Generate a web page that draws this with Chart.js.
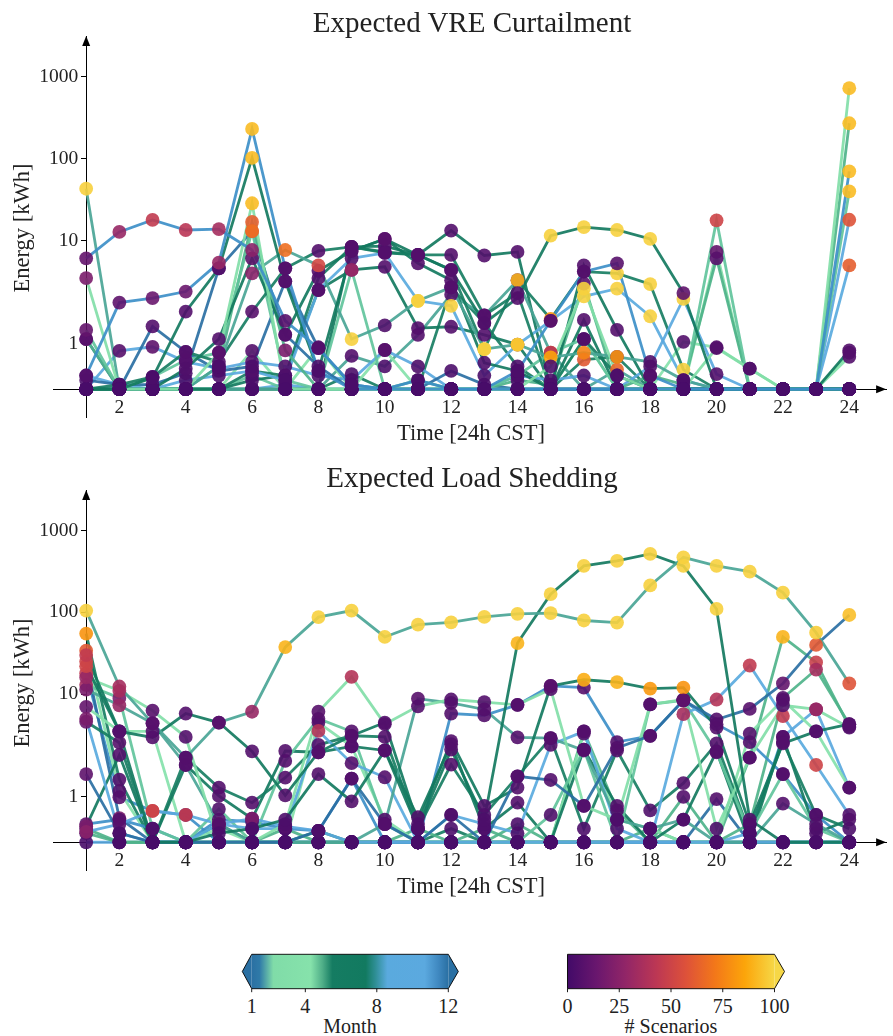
<!DOCTYPE html>
<html>
<head>
<meta charset="utf-8">
<script src="https://cdn.jsdelivr.net/npm/chart.js@4.4.1/dist/chart.umd.min.js"></script>
<style>
  html, body { margin: 0; padding: 0; background: #fff; }
  #page { position: relative; width: 893px; height: 1036px; overflow: hidden; font-family: 'Liberation Serif', serif; color: #222; }
  canvas { position: absolute; left: 0; }
  .txt { position: absolute; transform: translate(-50%, -50%); white-space: nowrap; }
  .title { font-size: 29px; }
  .axlabel { font-size: 22.5px; }
  .rot { transform: translate(-50%, -50%) rotate(-90deg); }
  svg { position: absolute; left: 0; top: 900px; }
</style>
</head>
<body>
<div id="page">
  <canvas id="chartVre" width="893" height="445" style="top:0"></canvas>
  <canvas id="chartShed" width="893" height="455" style="top:445px"></canvas>

  <div class="txt title" style="left:472px; top:22px">Expected VRE Curtailment</div>
  <div class="txt axlabel" style="left:471px; top:433px">Time [24h CST]</div>
  <div class="txt axlabel rot" style="left:22px; top:228px">Energy [kWh]</div>

  <div class="txt title" style="left:472px; top:477px">Expected Load Shedding</div>
  <div class="txt axlabel" style="left:471px; top:886px">Time [24h CST]</div>
  <div class="txt axlabel rot" style="left:22px; top:683px">Energy [kWh]</div>

  <svg id="bars" width="893" height="136"></svg>
</div>

<script>
// ------------------------------------------------------------
// data
// ------------------------------------------------------------
const hours = [1, 2, 3, 4, 5, 6, 7, 8, 9, 10, 11, 12, 13, 14, 15, 16, 17, 18, 19, 20, 21, 22, 23, 24];
const xTickValues = [2, 4, 6, 8, 10, 12, 14, 16, 18, 20, 22, 24];
const yTickValues = [1, 10, 100, 1000];
const monthTicks = [1, 4, 8, 12];
const scenarioTicks = [0, 25, 50, 75, 100];

// line colour per month (1..12)
const monthColors = ['#2a6fa3', '#62c49c', '#82dea8', '#86e2ab', '#4fb38a', '#187e63',
                     '#137a60', '#4aa596', '#5aaade', '#5aa8de', '#3d8fc8', '#2a6fa3'];
// month colorbar gradient [fraction, colour]
const monthStops = [[0, '#2a70a3'], [0.04, '#2f7aa8'], [0.11, '#80dca8'], [0.30, '#86e2ab'],
                    [0.36, '#4fae88'], [0.41, '#157c62'], [0.58, '#127a60'], [0.63, '#2f8f96'],
                    [0.69, '#5aaade'], [0.88, '#5ba9df'], [0.95, '#3f88c0'], [1, '#2a70a3']];
// # scenarios colormap, 0 -> 100
const scenarioStops = ['#420a68', '#6a176e', '#932667', '#bc3754', '#dd513a', '#f37819', '#fca50a', '#f6d746'];

// Expected VRE curtailment
const vreMonths = [11, 11, 7, 3, 8, 6, 7, 2, 5, 1, 12, 10, 9, 6, 7, 4, 8, 6, 3, 2, 9, 7];
const vreValues = [
  [6.1, 12.8, 17.9, 13.5, 13.8, 7.7, 1.5, 0.9, 0.1, 0, 0, 0, 0, 0, 0, 0, 0, 0, 0, 0, 0, 0, 0, 0],
  [0.3, 1.9, 2.0, 2.4, 5.4, 230, 4.6, 0.4, 0, 0, 0.2, 0, 0, 0.4, 1.5, 4.2, 5.3, 0.3, 0, 0, 0, 0, 0, 70],
  [0, 0, 0.25, 1.7, 4.6, 102, 3.2, 0.4, 7.5, 10.5, 6.7, 4.4, 1.45, 2.0, 11.5, 14.6, 13.5, 10.5, 2.3, 0, 0, 0, 0, 0.85],
  [3.5, 0, 0, 0, 0.8, 28.6, 0, 0, 0, 0, 0, 0, 0, 0, 0.5, 2.6, 0.3, 0, 0, 0.9, 0.45, 0, 0, 722],
  [43, 0, 0, 0, 0.5, 4.0, 7.7, 5.0, 1.1, 1.4, 1.94, 2.7, 0.88, 0.98, 0.7, 0.8, 0.71, 0.6, 0.2, 0, 0, 0, 0, 0],
  [0, 0.1, 0.27, 0.82, 0.6, 1.7, 4.6, 7.5, 8.4, 7.1, 6.7, 6.7, 1.62, 2.3, 0, 1.1, 0.3, 0, 0, 0, 0, 0, 0, 0],
  [0, 0, 0, 0.45, 1.1, 6.1, 1.19, 4.3, 7.5, 10.5, 5.3, 3.3, 0.58, 0.4, 0, 5.0, 1.3, 0, 0, 0, 0, 0, 0, 0],
  [1.3, 0, 0.27, 0.64, 0.8, 13.1, 0.2, 0, 4.4, 0, 0, 0, 0, 0.3, 0.8, 1.1, 0, 0, 0, 17.7, 0, 0, 0, 40],
  [1.1, 0, 0, 0, 0.5, 16.9, 0.85, 0, 0, 0, 0.2, 0, 0, 0.2, 0.1, 3.0, 0, 0.3, 0.1, 6.1, 0, 0, 0, 270],
  [1.1, 0, 1.38, 0.82, 0.4, 0.5, 3.2, 0.9, 0.1, 0, 0, 0.4, 0.1, 0, 0, 0, 0, 0, 0, 0, 0, 0, 0, 0],
  [0.2, 0.1, 0.1, 0.35, 4.6, 13.1, 1.2, 0.5, 0, 0, 0, 0, 0, 0, 0, 0, 0, 0, 0, 0, 0, 0, 0, 0],
  [0, 0.84, 0.93, 0.6, 0.45, 0.6, 0.5, 0.3, 0.2, 0.86, 0.5, 0, 0, 0.3, 0.2, 0.3, 0, 0.5, 1.98, 0.33, 0, 0, 0, 18],
  [0.3, 0.1, 0, 0.2, 0.3, 0.4, 0.2, 2.5, 6.1, 7.1, 1.94, 1.83, 0.3, 0.98, 1.5, 2.1, 2.6, 1.6, 0.2, 0, 0, 0, 0, 5.0],
  [0, 0, 0, 0, 0, 0.4, 0.3, 3.5, 8.4, 7.3, 6.7, 4.4, 0.88, 3.3, 1.54, 4.2, 4.0, 2.96, 0.43, 0, 0, 0, 0, 0],
  [0, 0, 0, 0, 0, 0.2, 0.3, 2.5, 4.4, 4.8, 1.34, 1.37, 1.19, 0.98, 0, 1.52, 0, 0, 0, 0, 0, 0, 0, 0],
  [0, 0, 0, 0, 0, 0.84, 0, 0.92, 0, 0.86, 0, 0, 0, 0, 0, 1.1, 0, 0, 1.04, 0.92, 0.45, 0, 0, 0.71],
  [0, 0, 0, 0, 0, 0, 0, 0, 0.73, 0.5, 1.19, 2.2, 1.62, 3.3, 0.8, 0, 0.43, 0, 0, 0, 0, 0, 0, 0],
  [0, 0, 0, 0, 0, 0, 0, 0, 0.33, 0, 0, 2.7, 1.45, 0.5, 0, 0.65, 0.71, 0, 0, 0, 0, 0, 0, 0],
  [0, 0, 0, 0, 0, 0, 0, 0, 0, 0, 0, 0, 0, 0, 0, 0, 0, 0, 0, 7.3, 0, 0, 0, 0.8],
  [0, 0, 0, 0, 0, 0.3, 0, 0, 0, 0, 0, 0, 0, 0, 0, 0, 0, 0, 0, 0, 0, 0, 0, 0],
  [0, 0, 0, 0, 0, 0, 0.1, 0, 0, 0, 0, 0, 0, 0, 0, 0, 0, 0, 0, 0, 0, 0, 0, 0],
  [0, 0, 0, 0, 0, 0, 0, 0, 8.4, 8.6, 6.7, 13.3, 6.6, 7.3, 0, 0, 0, 0, 0, 0, 0, 0, 0, 0]
];
const vreCounts = [
  [12, 30, 45, 42, 35, 25, 8, 6, 3, 2, 2, 2, 2, 2, 2, 2, 2, 2, 2, 2, 2, 2, 2, 2],
  [6, 10, 14, 15, 30, 92, 6, 4, 2, 2, 3, 2, 2, 4, 8, 6, 8, 4, 2, 2, 2, 2, 2, 92],
  [2, 2, 3, 6, 5, 92, 6, 4, 6, 8, 6, 6, 5, 6, 98, 98, 98, 98, 10, 2, 2, 2, 2, 6],
  [20, 2, 2, 2, 8, 92, 2, 2, 2, 2, 2, 2, 2, 2, 4, 98, 4, 2, 2, 6, 5, 2, 2, 92],
  [98, 2, 2, 2, 4, 25, 68, 52, 98, 5, 98, 6, 98, 95, 85, 75, 80, 5, 3, 2, 2, 2, 2, 2],
  [2, 3, 4, 6, 6, 8, 6, 6, 6, 6, 6, 6, 6, 6, 2, 5, 3, 2, 2, 2, 2, 2, 2, 2],
  [2, 2, 2, 5, 6, 10, 6, 6, 6, 8, 6, 6, 4, 4, 2, 6, 6, 2, 2, 2, 2, 2, 2, 2],
  [12, 2, 4, 6, 6, 68, 3, 2, 30, 2, 2, 2, 2, 4, 40, 8, 2, 2, 2, 50, 2, 2, 2, 92],
  [8, 2, 2, 2, 6, 62, 20, 2, 2, 2, 3, 2, 2, 3, 3, 8, 2, 20, 3, 8, 2, 2, 2, 92],
  [10, 2, 6, 6, 4, 4, 6, 6, 3, 2, 2, 4, 3, 2, 2, 2, 2, 2, 2, 2, 2, 2, 2, 2],
  [4, 3, 3, 4, 6, 52, 6, 4, 2, 2, 2, 2, 2, 2, 2, 2, 2, 2, 2, 2, 2, 2, 2, 2],
  [2, 8, 10, 5, 5, 6, 5, 4, 3, 8, 5, 2, 2, 4, 3, 4, 2, 5, 98, 6, 2, 2, 2, 58],
  [5, 3, 2, 3, 4, 5, 3, 6, 6, 6, 98, 98, 3, 95, 10, 98, 98, 98, 3, 2, 2, 2, 2, 62],
  [2, 2, 2, 2, 2, 5, 4, 6, 6, 6, 6, 6, 98, 90, 80, 8, 98, 98, 98, 2, 2, 2, 2, 2],
  [2, 2, 2, 2, 2, 3, 4, 6, 20, 6, 6, 6, 6, 6, 2, 6, 2, 2, 2, 2, 2, 2, 2, 2],
  [2, 2, 2, 2, 2, 6, 2, 6, 2, 6, 2, 2, 2, 2, 2, 6, 2, 2, 6, 6, 5, 2, 2, 6],
  [2, 2, 2, 2, 2, 2, 2, 2, 6, 4, 6, 6, 6, 6, 75, 2, 65, 2, 2, 2, 2, 2, 2, 2],
  [2, 2, 2, 2, 2, 2, 2, 2, 4, 2, 2, 6, 6, 4, 2, 60, 6, 2, 2, 2, 2, 2, 2, 2],
  [2, 2, 2, 2, 2, 2, 2, 2, 2, 2, 2, 2, 2, 2, 2, 2, 2, 2, 2, 12, 2, 2, 2, 8],
  [2, 2, 2, 2, 2, 4, 2, 2, 2, 2, 2, 2, 2, 2, 2, 2, 2, 2, 2, 2, 2, 2, 2, 2],
  [2, 2, 2, 2, 2, 2, 3, 2, 2, 2, 2, 2, 2, 2, 2, 2, 2, 2, 2, 2, 2, 2, 2, 2],
  [2, 2, 2, 2, 2, 2, 2, 2, 6, 6, 6, 6, 6, 6, 2, 2, 2, 2, 2, 2, 2, 2, 2, 2]
];

// Expected load shedding
const shedMonths = [8, 7, 1, 7, 3, 8, 10, 9, 2, 6, 7, 4, 11, 5, 5, 10, 6, 4, 1, 11];
const shedValues = [
  [105, 12.4, 4.4, 1.86, 4.5, 6.1, 37.6, 87.4, 105, 50, 70.6, 75.4, 88, 96, 98, 79.5, 75, 213, 470, 370, 315, 174, 56.5, 13.5],
  [30, 3.5, 0, 0, 0.2, 0.3, 0.5, 1.5, 0.9, 2.05, 0.3, 2.1, 0.5, 42.1, 167, 370, 425, 518, 370, 110, 0.5, 0, 0, 0],
  [1.5, 0.2, 0, 0, 0, 0, 0, 0.25, 1.4, 0.4, 0, 0.6, 0, 1.45, 1.37, 0.8, 2.2, 3.1, 8.4, 4.9, 6.6, 13.5, 40, 92.8],
  [22, 3.5, 2.96, 5.8, 4.5, 2.0, 1.03, 1.98, 3.1, 4.5, 0.4, 2.67, 0.8, 1.2, 12.6, 15, 14, 11.7, 12, 3.9, 0.4, 2.5, 3.5, 4.3],
  [16, 11, 6.3, 3.0, 0, 0, 0.4, 6.1, 16.3, 4.3, 7.1, 8.6, 8.0, 7.4, 11.5, 0.8, 0.5, 7.5, 8.6, 0.3, 1.86, 7.3, 6.5, 3.9],
  [11.4, 7.3, 4.4, 1.7, 0.4, 0, 0, 0, 0, 0.4, 8.8, 7.8, 6.5, 2.96, 2.9, 2.05, 0.5, 0.3, 0.5, 0, 0, 0.85, 0.4, 0],
  [0.23, 0.4, 0.69, 0.6, 0.4, 0.52, 0.35, 0.25, 0, 0, 0, 0, 0, 0, 0, 0, 0, 0, 0, 0, 0, 0, 0, 0],
  [5.0, 0.2, 0, 0, 0.4, 0.3, 0.3, 3.55, 1.74, 1.43, 0, 0.6, 0.4, 0.2, 2.4, 3.5, 0.3, 0, 5.7, 8.6, 22.4, 5.4, 1.7, 0.6],
  [13, 9.0, 0.3, 0, 0.73, 0, 1.79, 5.0, 3.5, 0.4, 0, 0, 0, 0, 0.6, 2.1, 0, 7.5, 8.4, 1.98, 0.2, 1.5, 0.3, 0],
  [4.6, 2.55, 0, 1.86, 1.2, 0.87, 1.42, 2.4, 3.1, 3.0, 0.3, 1.71, 0.6, 1.45, 2.9, 0.3, 2.05, 0.7, 1.3, 2.5, 0.2, 2.6, 0.6, 0.3],
  [0.35, 1.92, 0, 1.7, 1.02, 0.52, 2.02, 1.98, 2.3, 2.05, 0.55, 2.45, 0.3, 0.87, 0, 2.1, 0.8, 0, 0.5, 2.0, 0, 3.0, 0.2, 0.5],
  [7, 3.5, 3.5, 0, 0.3, 0, 0, 4.5, 2.3, 0.5, 0, 0, 0, 0, 0, 3.3, 0.5, 0.3, 0, 0, 3.3, 8.5, 3.5, 1.2],
  [0.4, 0.5, 0.3, 0, 0.5, 0.45, 0.3, 0.25, 1.4, 0, 0, 5.8, 5.5, 7.4, 12.6, 12.0, 2.6, 3.1, 8.4, 4.3, 2.6, 1.5, 0.6, 0],
  [0.2, 0, 0, 0, 0, 0, 0, 0, 0, 0, 0.3, 0, 0.3, 0, 0, 3.5, 0.7, 0, 1.0, 0, 0.4, 9.0, 20, 4.3],
  [0.3, 0, 0, 0, 0, 0, 0.3, 0, 0, 0, 0, 0, 0, 0.4, 0, 0, 0, 0.3, 0, 0, 1.86, 50, 24.4, 4.0],
  [0, 0, 0, 0, 0, 0, 0, 0, 0, 0, 0, 0, 0, 0, 0, 0, 0, 0, 0, 0, 0.2, 3.0, 6.5, 1.2],
  [55, 1.38, 0, 0, 0.4, 0, 0, 0.25, 0, 0, 0, 0.3, 0, 0, 0, 0, 0, 0, 0, 0, 0, 0, 0, 0],
  [34, 1.13, 0, 0, 0, 0, 0, 0, 0, 0, 0, 0, 0, 0, 0, 0, 0, 0, 0, 0, 0, 0, 0, 0],
  [25, 0.53, 0, 0, 0, 0, 0, 0, 0, 0, 0, 0, 0, 0, 0, 0, 0, 0, 0, 0.95, 0, 0, 0, 0],
  [18, 0.99, 0.69, 0.6, 0, 0, 0, 0, 0, 0, 0, 0, 0, 0, 0, 0, 0, 0, 0, 0, 0, 0, 0, 0]
];
const shedCounts = [
  [98, 35, 8, 6, 8, 30, 90, 98, 98, 98, 98, 98, 98, 98, 98, 98, 98, 98, 98, 98, 98, 98, 97, 58],
  [45, 6, 2, 2, 3, 3, 4, 6, 6, 6, 4, 6, 4, 90, 98, 98, 98, 98, 98, 98, 5, 2, 2, 2],
  [10, 3, 2, 2, 2, 2, 2, 4, 6, 6, 2, 5, 2, 6, 6, 6, 6, 6, 10, 6, 8, 12, 60, 93],
  [50, 6, 6, 6, 6, 6, 6, 6, 6, 6, 4, 6, 5, 6, 8, 88, 90, 82, 80, 6, 4, 6, 6, 6],
  [30, 35, 8, 6, 2, 2, 4, 8, 40, 6, 6, 6, 6, 6, 6, 5, 4, 6, 6, 3, 6, 6, 30, 6],
  [20, 30, 8, 6, 4, 2, 2, 2, 2, 6, 8, 6, 6, 6, 6, 6, 5, 4, 5, 2, 2, 6, 5, 2],
  [25, 8, 50, 45, 30, 20, 6, 5, 2, 2, 2, 2, 2, 2, 2, 2, 2, 2, 2, 2, 2, 2, 2, 2],
  [20, 4, 2, 2, 4, 4, 4, 40, 6, 6, 2, 5, 4, 3, 6, 6, 4, 2, 35, 40, 45, 45, 50, 6],
  [35, 20, 4, 2, 5, 2, 6, 6, 6, 5, 2, 2, 2, 2, 5, 6, 2, 6, 8, 6, 3, 6, 4, 2],
  [15, 8, 2, 6, 6, 6, 6, 6, 6, 6, 4, 6, 4, 6, 6, 4, 6, 5, 6, 6, 3, 6, 5, 4],
  [20, 6, 2, 6, 6, 5, 6, 6, 6, 6, 5, 6, 4, 6, 2, 6, 6, 2, 5, 6, 2, 6, 4, 5],
  [12, 6, 6, 2, 4, 2, 2, 6, 6, 5, 2, 2, 2, 2, 2, 6, 5, 4, 2, 2, 6, 6, 6, 6],
  [10, 6, 4, 2, 4, 4, 4, 4, 6, 2, 2, 6, 6, 6, 8, 8, 6, 6, 6, 6, 6, 6, 5, 2],
  [5, 2, 2, 2, 2, 2, 2, 2, 2, 2, 4, 2, 4, 2, 2, 6, 5, 2, 6, 2, 4, 6, 35, 6],
  [4, 2, 2, 2, 2, 2, 4, 2, 2, 2, 2, 2, 2, 4, 2, 2, 2, 4, 2, 2, 6, 90, 48, 6],
  [2, 2, 2, 2, 2, 2, 2, 2, 2, 2, 2, 2, 2, 2, 2, 2, 2, 2, 2, 2, 3, 6, 30, 6],
  [80, 6, 2, 2, 4, 2, 2, 4, 2, 2, 2, 4, 2, 2, 2, 2, 2, 2, 2, 2, 2, 2, 2, 2],
  [60, 6, 2, 2, 2, 2, 2, 2, 2, 2, 2, 2, 2, 2, 2, 2, 2, 2, 2, 2, 2, 2, 2, 2],
  [50, 20, 2, 2, 2, 2, 2, 2, 2, 2, 2, 2, 2, 2, 2, 2, 2, 2, 2, 6, 2, 2, 2, 2],
  [45, 8, 45, 6, 2, 2, 2, 2, 2, 2, 2, 2, 2, 2, 2, 2, 2, 2, 2, 2, 2, 2, 2, 2]
];

// ------------------------------------------------------------
// colours
// ------------------------------------------------------------
function hexRgb(h) {
  return [parseInt(h.slice(1, 3), 16), parseInt(h.slice(3, 5), 16), parseInt(h.slice(5, 7), 16)];
}
function rgba(rgb, a) { return `rgba(${rgb.map(Math.round).join(',')},${a})`; }

function scenarioColor(c, a) {
  const t = Math.max(0, Math.min(1, c / 100)) * (scenarioStops.length - 1);
  const i = Math.min(Math.floor(t), scenarioStops.length - 2);
  const f = t - i;
  const c0 = hexRgb(scenarioStops[i]), c1 = hexRgb(scenarioStops[i + 1]);
  return rgba(c0.map((v, k) => v + (c1[k] - v) * f), a);
}

// ------------------------------------------------------------
// symlog y scale (linthresh 2, linscale 1), like matplotlib
// ------------------------------------------------------------
const LINTHRESH = 2;
const LINSCALE = 1 / (1 - 1 / 10);
function symlog(v) {
  const a = Math.abs(v);
  if (a <= LINTHRESH) return v * LINSCALE;
  return Math.sign(v) * LINTHRESH * (LINSCALE + Math.log10(a / LINTHRESH));
}
function symexp(t) {
  const a = Math.abs(t);
  if (a <= LINTHRESH * LINSCALE) return t / LINSCALE;
  return Math.sign(t) * LINTHRESH * Math.pow(10, a / LINTHRESH - LINSCALE);
}

class SymlogScale extends Chart.Scale {
  parse(raw) { return raw == null ? null : +raw; }
  determineDataLimits() { this.min = this.options.min; this.max = this.options.max; }
  buildTicks() { return yTickValues.map(v => ({ value: v })); }
  getLabelForValue(v) { return String(v); }
  configure() {
    super.configure();
    this._t0 = symlog(this.min);
    this._tr = symlog(this.max) - this._t0;
  }
  getPixelForValue(v) { return this.getPixelForDecimal((symlog(v) - this._t0) / this._tr); }
  getValueForPixel(p) { return symexp(this.getDecimalForPixel(p) * this._tr + this._t0); }
  // a data-positioned y axis puts its labels right on the spine; move them out by tick + padding
  _computeLabelItems(chartArea) {
    const items = super._computeLabelItems(chartArea);
    const shift = this.options.grid.tickLength + this.options.ticks.padding;
    items.forEach(it => { it.options.translation[0] -= shift; });
    return items;
  }
}
SymlogScale.id = 'symlog';
SymlogScale.defaults = {};
Chart.register(SymlogScale);

// arrow heads at the end of both spines
const axisArrows = {
  id: 'axisArrows',
  afterDraw(chart) {
    const { ctx, chartArea, scales } = chart;
    const y0 = scales.y.getPixelForValue(0);
    const x1 = scales.x.getPixelForValue(1);
    ctx.save();
    ctx.fillStyle = '#000';
    ctx.beginPath();
    ctx.moveTo(chartArea.right, y0);
    ctx.lineTo(chartArea.right - 10, y0 - 4);
    ctx.lineTo(chartArea.right - 10, y0 + 4);
    ctx.closePath();
    ctx.fill();
    ctx.beginPath();
    ctx.moveTo(x1, chartArea.top);
    ctx.lineTo(x1 - 4, chartArea.top + 10);
    ctx.lineTo(x1 + 4, chartArea.top + 10);
    ctx.closePath();
    ctx.fill();
    ctx.restore();
  }
};

Chart.defaults.font.family = "'Liberation Serif', serif";
Chart.defaults.color = '#222';

function buildDatasets(months, values, counts) {
  const lines = [], dots = [];
  values.forEach((vals, k) => {
    const pts = vals.map((v, i) => ({ x: hours[i], y: v }));
    lines.push({
      data: pts, borderColor: rgba(hexRgb(monthColors[months[k] - 1]), 0.92),
      borderWidth: 2.8, pointRadius: 0, order: 2
    });
    dots.push({
      data: pts, showLine: false, pointRadius: 6.9, pointBorderWidth: 0,
      pointBackgroundColor: counts[k].map(c => scenarioColor(c, 0.9)), order: 1
    });
  });
  return dots.concat(lines);
}

function makeChart(id, months, values, counts, pad) {
  return new Chart(document.getElementById(id), {
    type: 'line',
    data: { datasets: buildDatasets(months, values, counts) },
    options: {
      responsive: false, animation: false, devicePixelRatio: 1,
      layout: { padding: pad },
      plugins: { legend: { display: false }, tooltip: { enabled: false } },
      scales: {
        x: {
          type: 'linear', min: 0, max: 25.11, position: { y: 0 },
          afterBuildTicks: ax => { ax.ticks = xTickValues.map(v => ({ value: v })); },
          grid: { drawOnChartArea: false, tickLength: 4, color: '#000' },
          border: { display: true, color: '#000', width: 1 },
          ticks: { padding: 3, maxRotation: 0, autoSkip: false, font: { size: 19.5 }, color: '#222' }
        },
        y: {
          type: 'symlog', min: -0.61, max: 3127, position: { x: 1 },
          grid: { drawOnChartArea: false, tickLength: 5, color: '#000' },
          border: { display: true, color: '#000', width: 1 },
          ticks: { padding: 3, autoSkip: false, font: { size: 19.5 }, color: '#222', callback: v => String(v) }
        }
      }
    },
    plugins: [axisArrows]
  });
}

makeChart('chartVre', vreMonths, vreValues, vreCounts, { left: 53, right: 0, top: 36, bottom: 28 });
makeChart('chartShed', shedMonths, shedValues, shedCounts, { left: 53, right: 0, top: 45, bottom: 30 });

// ------------------------------------------------------------
// colorbars (svg)
// ------------------------------------------------------------
const svg = document.getElementById('bars');
const NS = 'http://www.w3.org/2000/svg';
function el(tag, attrs, text) {
  const e = document.createElementNS(NS, tag);
  for (const k in attrs) e.setAttribute(k, attrs[k]);
  if (text !== undefined) e.textContent = text;
  svg.appendChild(e);
  return e;
}
const defs = el('defs', {});
function gradient(id, stops) {
  const g = document.createElementNS(NS, 'linearGradient');
  g.setAttribute('id', id);
  stops.forEach(([f, c]) => {
    const s = document.createElementNS(NS, 'stop');
    s.setAttribute('offset', f);
    s.setAttribute('stop-color', c);
    g.appendChild(s);
  });
  defs.appendChild(g);
}
gradient('gMonth', monthStops);
gradient('gScen', scenarioStops.map((c, i) => [i / (scenarioStops.length - 1), c]));

const BAR_T = 54.3, BAR_B = 88.7, BAR_M = (BAR_T + BAR_B) / 2;
function colorbar(x0, x1, grad, leftTip, rightTip, ticks, vmin, vmax, label) {
  if (leftTip) el('polygon', { points: `${x0},${BAR_T} ${leftTip.x},${BAR_M} ${x0},${BAR_B}`, fill: leftTip.c });
  if (rightTip) el('polygon', { points: `${x1},${BAR_T} ${rightTip.x},${BAR_M} ${x1},${BAR_B}`, fill: rightTip.c });
  el('rect', { x: x0, y: BAR_T, width: x1 - x0, height: BAR_B - BAR_T, fill: `url(#${grad})` });
  const pts = [`${x0},${BAR_T}`, `${x1},${BAR_T}`];
  if (rightTip) pts.push(`${rightTip.x},${BAR_M}`);
  pts.push(`${x1},${BAR_B}`, `${x0},${BAR_B}`);
  if (leftTip) pts.push(`${leftTip.x},${BAR_M}`);
  el('polygon', { points: pts.join(' '), fill: 'none', stroke: '#000', 'stroke-width': 0.9 });
  ticks.forEach(t => {
    const x = x0 + (t - vmin) / (vmax - vmin) * (x1 - x0);
    el('line', { x1: x, x2: x, y1: BAR_B, y2: BAR_B + 3.5, stroke: '#000', 'stroke-width': 0.9 });
    el('text', { x: x, y: 113, 'text-anchor': 'middle', 'font-size': 20, 'font-family': 'Liberation Serif', fill: '#222' }, String(t));
  });
  el('text', { x: (x0 + x1) / 2, y: 133, 'text-anchor': 'middle', 'font-size': 20, 'font-family': 'Liberation Serif', fill: '#222' }, label);
}
colorbar(251.7, 448.3, 'gMonth', { x: 242.3, c: monthStops[0][1] }, { x: 458.3, c: monthStops[monthStops.length - 1][1] },
         monthTicks, 1, 12, 'Month');
colorbar(567.5, 774.5, 'gScen', null, { x: 784.5, c: scenarioStops[scenarioStops.length - 1] },
         scenarioTicks, 0, 100, '# Scenarios');
</script>
</body>
</html>
